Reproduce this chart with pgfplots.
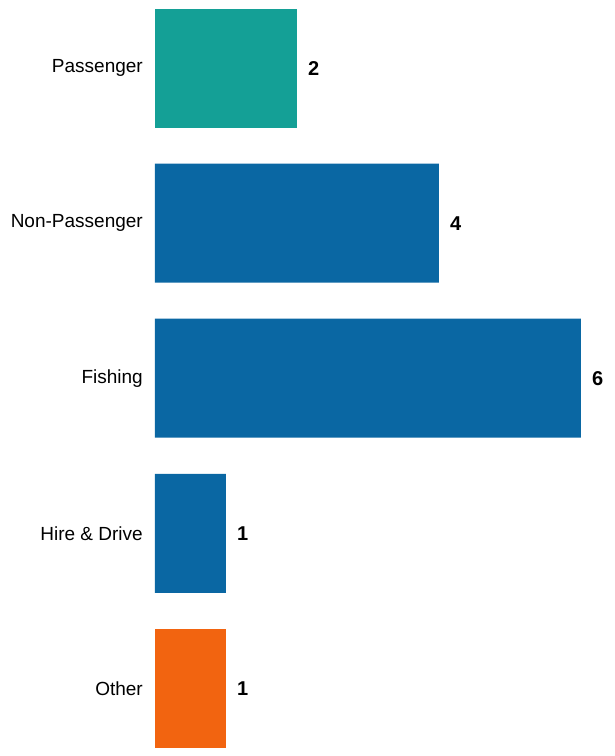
\documentclass[border=0pt]{standalone}
\usepackage{pgfplots}
\pgfplotsset{compat=1.18}
\usepackage{fontspec}
\setmainfont{Liberation Sans}
\definecolor{cteal}{HTML}{14A096}
\definecolor{cblue}{HTML}{0A67A3}
\definecolor{corange}{HTML}{F26410}
\begin{document}
\begin{tikzpicture}
\begin{axis}[
  at={(0,0)}, anchor=south west,
  scale only axis,
  width=460pt, height=756pt,
  xbar, bar width=119pt, bar shift=0pt,
  xmin=0, xmax=6.479,
  ymin=-0.44, ymax=4.437,
  y dir=reverse,
  axis x line=none,
  axis y line*=left,
  y axis line style={draw=none},
  ytick={0,1,2,3,4},
  yticklabels={Passenger,Non-Passenger,Fishing,Hire \& Drive,Other},
  ytick style={draw=none},
  major tick length=0pt,
  yticklabel style={anchor=east, inner sep=0pt, xshift=-12pt, font=\fontsize{19}{23}\selectfont},
  /pgf/number format/assume math mode=true,
  nodes near coords,
  nodes near coords style={anchor=west, inner sep=0pt, xshift=11pt, font=\bfseries\fontsize{20}{24}\selectfont, text=black},
  every axis plot/.append style={draw=none},
]
\addplot[fill=cteal] coordinates {(2,0)};
\addplot[fill=cblue] coordinates {(4,1) (6,2) (1,3)};
\addplot[fill=corange] coordinates {(1,4)};
\end{axis}
\pgfresetboundingbox
\path[use as bounding box] (-155pt,0pt) rectangle (460pt,756pt);
\end{tikzpicture}
\end{document}
